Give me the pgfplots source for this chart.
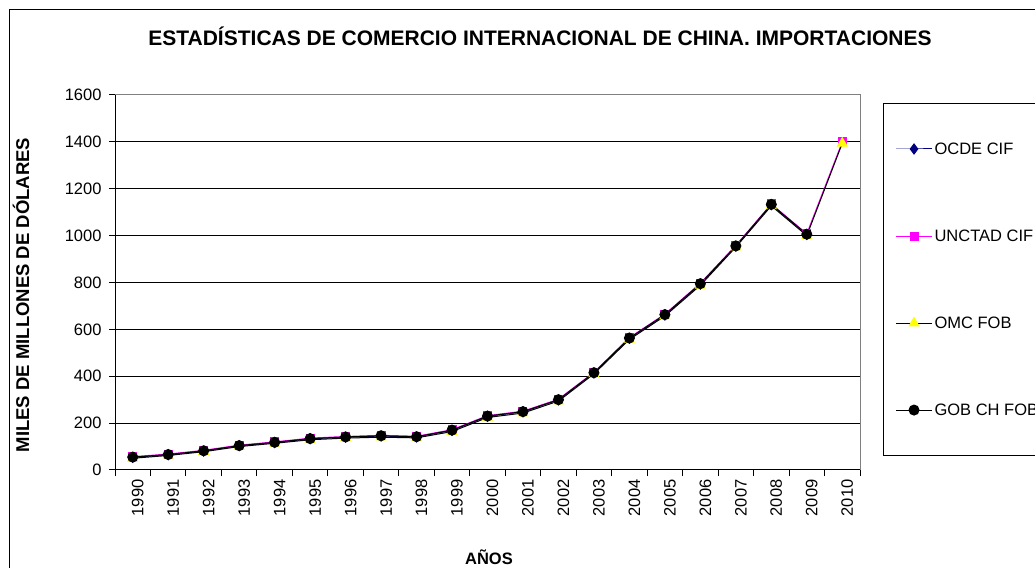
\documentclass[border=0pt]{standalone}
\usepackage{fontspec}
\setmainfont{Liberation Sans}
\usepackage{pgfplots}
\pgfplotsset{compat=1.18}
\definecolor{ocde}{RGB}{0,0,128}
\definecolor{unctad}{RGB}{255,0,255}
\definecolor{omc}{RGB}{255,255,0}
\begin{document}
\begin{tikzpicture}[x=1pt,y=1pt]
\useasboundingbox (0,0) rectangle (1035,567);
\draw[line width=1pt,black] (9.5,-5) -- (9.5,557) -- (1045,557);
\node[font=\bfseries\fontsize{21}{24}\selectfont, anchor=base] at (540,521) {ESTADÍSTICAS DE COMERCIO INTERNACIONAL DE CHINA. IMPORTACIONES};
\node[font=\bfseries\fontsize{18.5}{20}\selectfont, rotate=90, anchor=base] at (29,272) {MILES DE MILLONES DE DÓLARES};
\node[font=\bfseries\fontsize{16.5}{20}\selectfont, anchor=base] at (489,2) {AÑOS};
\begin{axis}[
  at={(115pt,97pt)}, anchor=south west,
  width=745pt, height=375pt, scale only axis,
  xmin=-0.5, xmax=20.5, ymin=0, ymax=1600,
  xtick={-0.5,0.5,...,20.5}, x tick label as interval,
  xticklabels={1990,1991,1992,1993,1994,1995,1996,1997,1998,1999,2000,2001,2002,2003,2004,2005,2006,2007,2008,2009,2010},
  ytick={0,200,...,1600},
  axis x line*=bottom, axis y line*=left,
  tick align=outside, major tick length=6pt,
  ymajorgrids, grid style={black, line width=1pt},
  axis line style={line width=1pt, black},
  tick style={black, line width=1pt},
  /pgf/number format/assume math mode=true,
  /pgf/number format/1000 sep={},
  ticklabel style={font=\fontsize{16.5}{18}\selectfont},
  xticklabel style={rotate=90, anchor=east, yshift=-5pt},
  yticklabel style={xshift=-4pt},
  clip=false,
  legend cell align=left,
  legend image code/.code={\draw[mark repeat=2,mark phase=2] plot coordinates {(0pt,0pt) (18pt,0pt) (36pt,0pt)};},
  legend style={at={(axis description cs:1.0309,0.9787)}, anchor=north west,
    draw=black, line width=1pt, font=\fontsize{16.5}{18}\selectfont,
    row sep=70pt, inner ysep=37pt, inner xsep=12pt},
]
\addplot[color=ocde, line width=1pt, mark=diamond*, mark size=5pt, mark options={fill=ocde, draw=ocde}]
  coordinates {(0,54) (1,65) (2,81) (3,104) (4,117) (5,133) (6,140) (7,145) (8,141) (9,169) (10,229) (11,248) (12,299) (13,414) (14,562) (15,661) (16,793) (17,955) (18,1132) (19,1005)};
\addlegendentry{OCDE CIF}
\addplot[color=unctad, line width=1pt, mark=square*, mark size=4pt, mark options={fill=unctad, draw=unctad}]
  coordinates {(0,57) (1,68) (2,84) (3,106) (4,120) (5,136) (6,143) (7,148) (8,144) (9,172) (10,232) (11,251) (12,302) (13,417) (14,565) (15,665) (16,797) (17,958) (18,1135) (19,1008) (20,1400)};
\addlegendentry{UNCTAD CIF}
\addplot[color=black, line width=1pt, mark=triangle*, mark size=5.5pt, mark options={fill=omc, draw=omc}]
  coordinates {(0,50) (1,62) (2,78) (3,100) (4,114) (5,129) (6,136) (7,140) (8,137) (9,164) (10,224) (11,243) (12,294) (13,410) (14,557) (15,657) (16,788) (17,951) (18,1127) (19,1000) (20,1394)};
\addlegendentry{OMC FOB}
\addplot[color=black, line width=1pt, mark=*, mark size=5pt, mark options={fill=black, draw=black}]
  coordinates {(0,55) (1,66) (2,82) (3,104) (4,118) (5,134) (6,141) (7,146) (8,142) (9,170) (10,230) (11,249) (12,300) (13,415) (14,563) (15,663) (16,795) (17,956) (18,1133) (19,1006)};
\addlegendentry{GOB CH FOB}
\draw[gray, line width=1pt] (rel axis cs:0,1) -- (rel axis cs:1,1) -- (rel axis cs:1,0);
\end{axis}
\end{tikzpicture}
\end{document}
